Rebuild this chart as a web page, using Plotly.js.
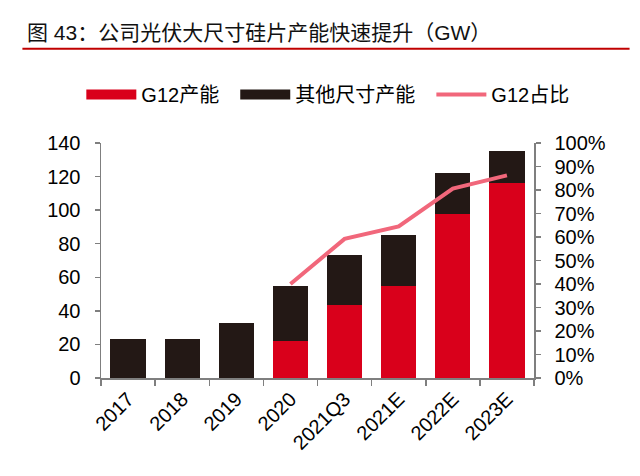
<!DOCTYPE html>
<html>
<head>
<meta charset="utf-8">
<script src="https://cdn.plot.ly/plotly-3.0.1.min.js"></script>
<style>html,body{margin:0;padding:0;background:#fff;}#chart{width:640px;height:476px;}</style>
</head>
<body>
<div id="chart"></div>
<script>
var categories = ['2017','2018','2019','2020','2021Q3','2021E','2022E','2023E'];
var g12Capacity = [null, null, null, 22, 43.5, 55, 98, 116];
var otherCapacity = [23, 23, 33, 33, 30, 30, 24, 19];
var g12Share = [null, null, null, 0.40, 0.592, 0.645, 0.806, 0.862];
var seriesNames = ['G12产能', '其他尺寸产能', 'G12占比'];
var leftTicks = [0, 20, 40, 60, 80, 100, 120, 140];
var rightTicks = [0, 0.1, 0.2, 0.3, 0.4, 0.5, 0.6, 0.7, 0.8, 0.9, 1.0];

var RED = '#D9001B', BLACK = '#231815', PINK = '#F1677B';
var FONT = 'Liberation Sans, Arial, Noto Sans CJK SC, sans-serif';

var L = 100.7, R = 534.3, T = 142.7, B = 378.3;
var W = 640, H = 476;
var pw = R - L, ph = B - T;
function px2x(p){ return (p - L) / pw; }
function px2y(p){ return (B - p) / ph; }
var PAD = '\u00a0\u00a0';

var data = [
  {type:'bar', name:seriesNames[0], x:categories, y:g12Capacity, marker:{color:RED, line:{width:0}}, showlegend:false, yaxis:'y'},
  {type:'bar', name:seriesNames[1], x:categories, y:otherCapacity, marker:{color:BLACK, line:{width:0}}, showlegend:false, yaxis:'y'},
  {type:'scatter', mode:'lines', name:seriesNames[2], x:categories, y:g12Share, yaxis:'y2', line:{color:PINK, width:4}, showlegend:false, connectgaps:false},
  {type:'scatter', mode:'lines', name:seriesNames[0] + PAD, x:[null], y:[null], line:{color:RED, width:10}, showlegend:true},
  {type:'scatter', mode:'lines', name:seriesNames[1] + PAD, x:[null], y:[null], line:{color:BLACK, width:10}, showlegend:true},
  {type:'scatter', mode:'lines', name:seriesNames[2], x:[null], y:[null], line:{color:PINK, width:4}, showlegend:true}
];

var layout = {
  width: W, height: H,
  margin: {l: L, r: W - R, t: T, b: H - B, pad: 0},
  paper_bgcolor: '#fff', plot_bgcolor: '#fff',
  font: {family: FONT, size: 20, color: '#000'},
  barmode: 'stack',
  bargap: 0.35,
  title: {text: '图 43：公司光伏大尺寸硅片产能快速提升（GW）', font:{family: FONT, size: 21, color:'#111'},
          xref:'container', yref:'container', x: 27/W, xanchor:'left', y: 1 - 33/H, yanchor:'middle'},
  showlegend: true,
  legend: {orientation:'h', traceorder:'normal', x: px2x(81), xanchor:'left', y: px2y(94), yanchor:'middle',
           itemwidth: 50, font:{family: FONT, size: 20, color:'#000'}, bgcolor:'rgba(0,0,0,0)', tracegroupgap:0},
  xaxis: {type:'category', range:[-0.5, 7.5], showline:true, linecolor:'#7f7f7f', linewidth:1.5,
          ticks:'outside', tickson:'boundaries', ticklen:6, tickcolor:'#7f7f7f', tickwidth:1.5,
          tickangle:-45, tickfont:{family: FONT, size: 20, color:'#000'}, showgrid:false, zeroline:false, fixedrange:true},
  yaxis: {range:[0, 140], tickvals: leftTicks, ticktext: leftTicks.map(String), showline:true, linecolor:'#7f7f7f', linewidth:1.5,
          ticks:'outside', ticklen:5, tickcolor:'#7f7f7f', tickwidth:1.5, showgrid:false, zeroline:false,
          tickfont:{family: FONT, size: 20, color:'#000'}, ticklabelstandoff: 10},
  yaxis2: {range:[0, 1], overlaying:'y', side:'right', tickvals: rightTicks, ticktext: rightTicks.map(function(v){return Math.round(v*100)+'%';}),
          showline:true, linecolor:'#7f7f7f', linewidth:1.5, ticks:'outside', ticklen:5, tickcolor:'#7f7f7f', tickwidth:1.5,
          showgrid:false, zeroline:false, tickfont:{family: FONT, size: 20, color:'#000'}, ticklabelstandoff: 10},
  shapes: [
    {type:'line', xref:'paper', yref:'paper', x0: px2x(22), x1: px2x(630), y0: px2y(48.3), y1: px2y(48.3),
     line:{color:'#C00000', width:2}}
  ]
};

Plotly.newPlot('chart', data, layout, {staticPlot:true, displayModeBar:false});
</script>
</body>
</html>
